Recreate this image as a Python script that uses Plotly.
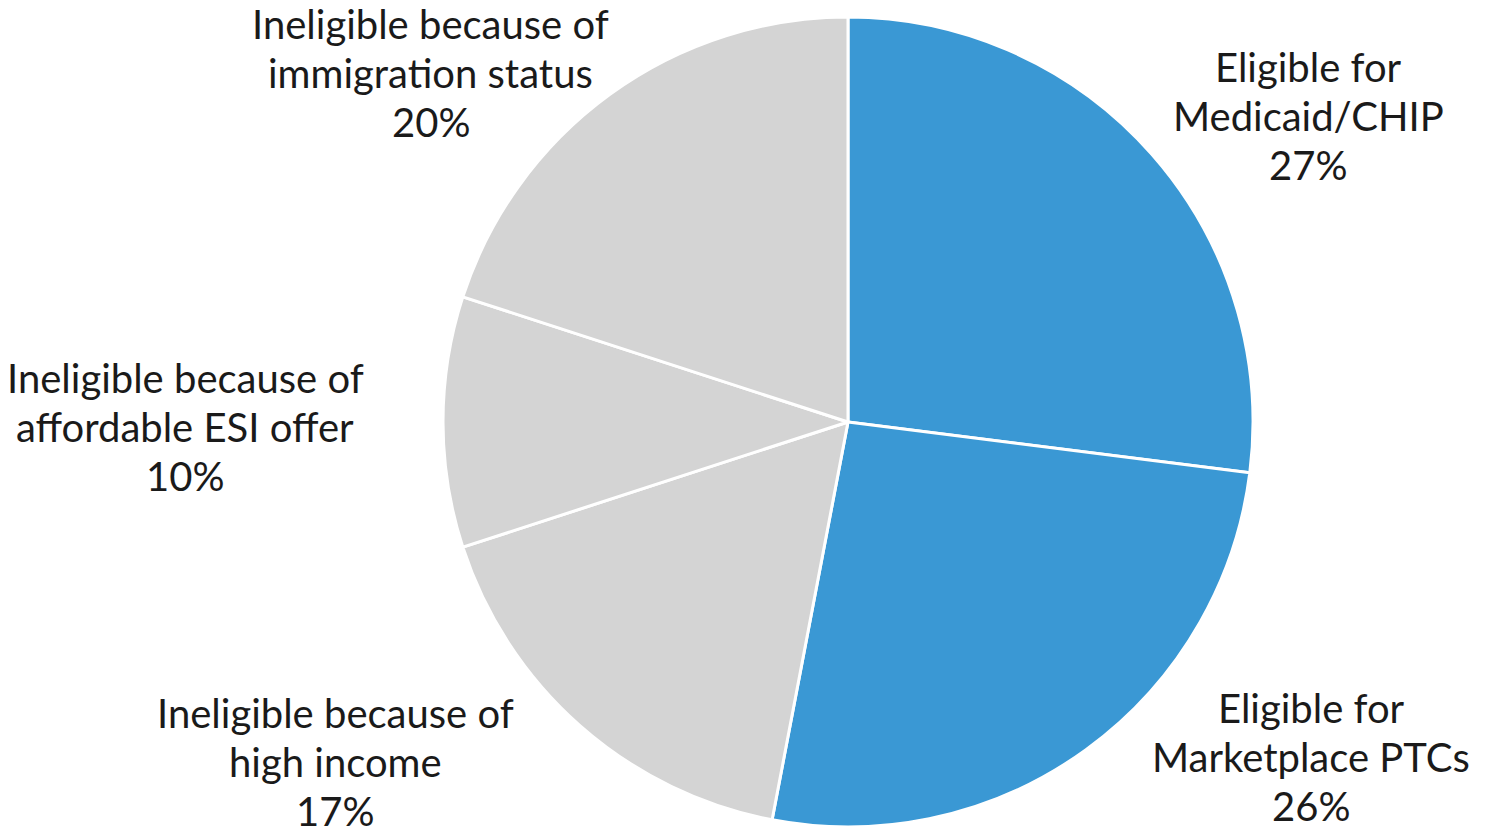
import plotly.graph_objects as go

W, H = 1486, 829

categories = [
    ["Eligible for", "Medicaid/CHIP"],
    ["Eligible for", "Marketplace PTCs"],
    ["Ineligible because of", "high income"],
    ["Ineligible because of", "affordable ESI offer"],
    ["Ineligible because of", "immigration status"],
]
values = [27, 26, 17, 10, 20]
colors = ["#3A98D4", "#3A98D4", "#D4D4D4", "#D4D4D4", "#D4D4D4"]

# label anchor positions (pixel centre of the middle line)
label_px = [(1308, 116), (1311, 757), (335, 762), (185, 427), (431, 73)]
LINE_GAP = 49

cx, cy, r = 848, 422, 405

fig = go.Figure(go.Pie(
    labels=[" ".join(c) for c in categories],
    values=values,
    sort=False,
    direction="clockwise",
    rotation=0,
    marker=dict(colors=colors, line=dict(color="white", width=3)),
    textinfo="none",
    hoverinfo="label+percent",
    showlegend=False,
    domain=dict(x=[(cx - r) / W, (cx + r) / W], y=[(H - cy - r) / H, (H - cy + r) / H]),
))

for cat, v, (px, py) in zip(categories, values, label_px):
    lines = cat + [f"{v}%"]
    for i, line in enumerate(lines):
        y = py + (i - 1) * LINE_GAP
        fig.add_annotation(
            x=px / W, y=1 - y / H, xref="paper", yref="paper",
            text=line, showarrow=False,
            xanchor="center", yanchor="middle", align="center",
            font=dict(family="Lato", size=40, color="#1a1a1a"),
        )

fig.update_layout(
    width=W, height=H,
    margin=dict(l=0, r=0, t=0, b=0),
    paper_bgcolor="white", plot_bgcolor="white",
)

fig.write_html("out.html", config={"displayModeBar": False},
               post_script="document.body.style.margin='0';")
